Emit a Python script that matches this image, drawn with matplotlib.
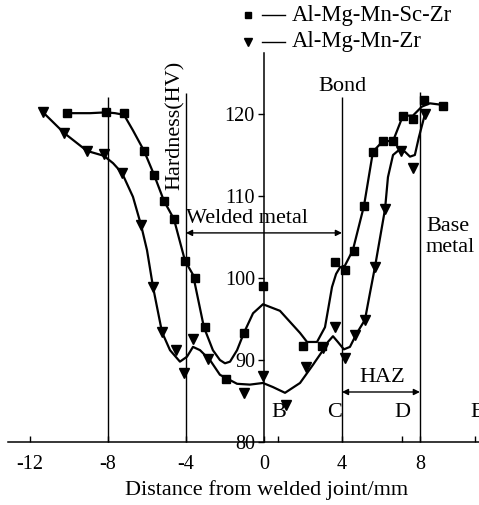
import matplotlib.pyplot as plt

plt.rcParams['font.family'] = ['Liberation Serif', 'DejaVu Serif']
plt.rcParams['axes.unicode_minus'] = True

# measured points (distance mm, hardness HV)
sc_x = [-10.10, -8.10, -7.18, -6.15, -5.64, -5.13, -4.62, -4.05, -3.54, -3.03,
        -1.95, -1.03, -0.05, 2.00, 2.97, 3.64, 4.15, 4.62, 5.13, 5.59,
        6.10, 6.60, 7.13, 7.64, 8.20, 9.18]
sc_hv = [120.1, 120.2, 120.1, 115.5, 112.6, 109.4, 107.2, 102.1, 100.0, 94.0,
         87.7, 93.3, 99.0, 91.7, 91.7, 102.0, 101.0, 103.3, 108.8, 115.4,
         116.7, 116.7, 119.8, 119.4, 121.7, 121.0]

zr_x = [-11.33, -10.26, -9.08, -8.20, -7.28, -6.31, -5.69, -5.23, -4.51, -4.10,
        -3.64, -2.87, -1.03, -0.05, 1.13, 2.15, 3.03, 3.64, 4.15, 4.67,
        5.18, 5.69, 6.20, 7.03, 7.64, 8.26]
zr_hv = [120.2, 117.7, 115.5, 115.1, 112.8, 106.5, 98.9, 93.4, 91.2, 88.4,
         92.6, 90.1, 86.0, 88.0, 84.5, 89.1, 91.5, 94.0, 90.2, 93.0,
         94.9, 101.3, 108.4, 115.5, 113.4, 120.0]

# fitted curves as drawn in the figure
sc_curve_x = [-10.10, -8.92, -8.10, -7.64, -7.18, -6.72, -6.15, -5.64, -5.13, -4.62,
              -4.05, -3.64, -3.08, -2.62, -2.26, -2.00, -1.74, -1.38, -1.03, -0.56,
              -0.05, 0.82, 1.85, 2.21, 2.72, 3.13, 3.30, 3.49, 3.70, 3.90, 4.15, 4.56,
              5.13, 5.59, 6.10, 6.62, 7.13, 7.64, 8.10, 8.51, 9.18]
sc_curve_hv = [120.1, 120.1, 120.2, 120.1, 119.9, 118.0, 115.5, 112.6, 109.4, 107.2,
               102.1, 100.4, 94.0, 91.2, 90.0, 89.6, 89.8, 91.2, 93.3, 95.7,
               96.8, 96.0, 93.3, 92.2, 92.2, 94.0, 96.3, 98.9, 100.5, 101.3, 101.5, 103.4,
               108.8, 115.4, 116.7, 116.7, 119.8, 119.8, 120.9, 121.3, 121.1]

zr_curve_x = [-11.33, -10.26, -9.08, -8.21, -7.74, -7.28, -6.72, -6.31, -6.00, -5.69,
              -5.23, -4.82, -4.31, -3.95, -3.64, -3.28, -2.77, -2.26, -1.38, -0.72,
              -0.05, 0.46, 1.08, 1.85, 2.51, 3.03, 3.28, 3.54, 3.79, 4.10,
              4.41, 4.77, 5.18, 5.44, 5.69, 6.21, 6.36, 6.62, 6.87, 7.23,
              7.49, 7.74, 7.95, 8.26]
zr_curve_hv = [120.2, 117.7, 115.5, 114.9, 114.0, 112.8, 109.9, 106.5, 103.4, 98.9,
               93.4, 91.2, 89.8, 90.4, 91.6, 91.2, 90.0, 88.2, 87.1, 87.0,
               87.2, 86.7, 86.0, 87.2, 89.4, 91.2, 92.2, 92.9, 92.2, 91.3,
               91.6, 93.3, 94.9, 98.2, 101.3, 108.4, 112.3, 115.0, 115.5, 115.4,
               114.8, 115.0, 117.2, 120.0]

x_ticks = [-12, -8, -4, 0, 4, 8]
y_ticks = [80, 90, 100, 110, 120]
point_ticks = [0.72, 7.10, 10.80]
zone_lines = [-8, -4, 4, 8]
zone_tops = [122.1, 122.6, 122.1, 122.7]

fig = plt.figure(figsize=(4.79, 5.05), dpi=100)
ax = fig.add_axes([0, 0, 1, 1])
ax.set_xlim(-13.54, 11.03)
ax.set_ylim(72.32, 133.9)

for s in ['top', 'right']:
    ax.spines[s].set_visible(False)
ax.spines['left'].set_position(('data', 0))
ax.spines['bottom'].set_position(('data', 80))
ax.spines['left'].set_bounds(80, 127.4)
ax.spines['bottom'].set_bounds(-13.13, 11.03)
ax.spines['left'].set_linewidth(1.1)
ax.spines['bottom'].set_linewidth(1.1)

ax.set_xticks(x_ticks)
ax.set_xticklabels([str(v) for v in x_ticks])
ax.set_xticks(point_ticks, minor=True)
ax.tick_params(axis='x', which='both', direction='in', length=4.5, width=1,
               pad=9, labelsize=14.5)
ax.set_yticks(y_ticks)
ax.tick_params(axis='y', direction='out', length=4.5, width=1, pad=2,
               labelsize=14.5)

ax.vlines(zone_lines, 80, zone_tops, colors='black', lw=1.0)

ax.plot(sc_curve_x, sc_curve_hv, color='black', lw=1.6)
ax.plot(zr_curve_x, zr_curve_hv, color='black', lw=1.6)
ax.plot(sc_x, sc_hv, 's', color='black', ms=6)
ax.plot(zr_x, zr_hv, 'v', color='black', ms=6.5)

# legend drawn by hand
ax.plot([-0.82], [132.07], 's', color='black', ms=5, clip_on=False)
ax.plot([-0.10, 1.08], [132.07, 132.07], color='black', lw=1)
ax.text(1.44, 132.07, 'Al-Mg-Mn-Sc-Zr', fontsize=16.3, va='center', ha='left')
ax.plot([-0.82], [128.78], 'v', color='black', ms=5.5)
ax.plot([-0.10, 1.08], [128.78, 128.78], color='black', lw=1)
ax.text(1.44, 128.78, 'Al-Mg-Mn-Zr', fontsize=16.3, va='center', ha='left')

ax.text(-4.56, 118.66, 'Hardness(HV)', rotation=90, fontsize=16,
        ha='center', va='center')
ax.text(4.05, 123.3, 'Bond', fontsize=16, ha='center', va='center')
ax.text(-0.87, 107.3, 'Welded metal', fontsize=16, ha='center', va='center')
ax.annotate('', xy=(-4, 105.5), xytext=(4, 105.5),
            arrowprops=dict(arrowstyle='<|-|>', color='black', lw=1,
                            mutation_scale=9, shrinkA=0, shrinkB=0))
ax.text(8.31, 105.0, 'Base\nmetal', fontsize=16, ha='left', va='center',
        linespacing=1.1)
ax.text(6.05, 87.9, 'HAZ', fontsize=16, ha='center', va='center')
ax.annotate('', xy=(4, 86.1), xytext=(8, 86.1),
            arrowprops=dict(arrowstyle='<|-|>', color='black', lw=1,
                            mutation_scale=9, shrinkA=0, shrinkB=0))
for lab, xv in zip(['B', 'C', 'D', 'E'], [0.77, 3.64, 7.08, 10.92]):
    ax.text(xv, 83.66, lab, fontsize=16, ha='center', va='center')

ax.text(0.15, 74.15, 'Distance from welded joint/mm', fontsize=16,
        ha='center', va='center')

fig.savefig('out.png', dpi=100)
